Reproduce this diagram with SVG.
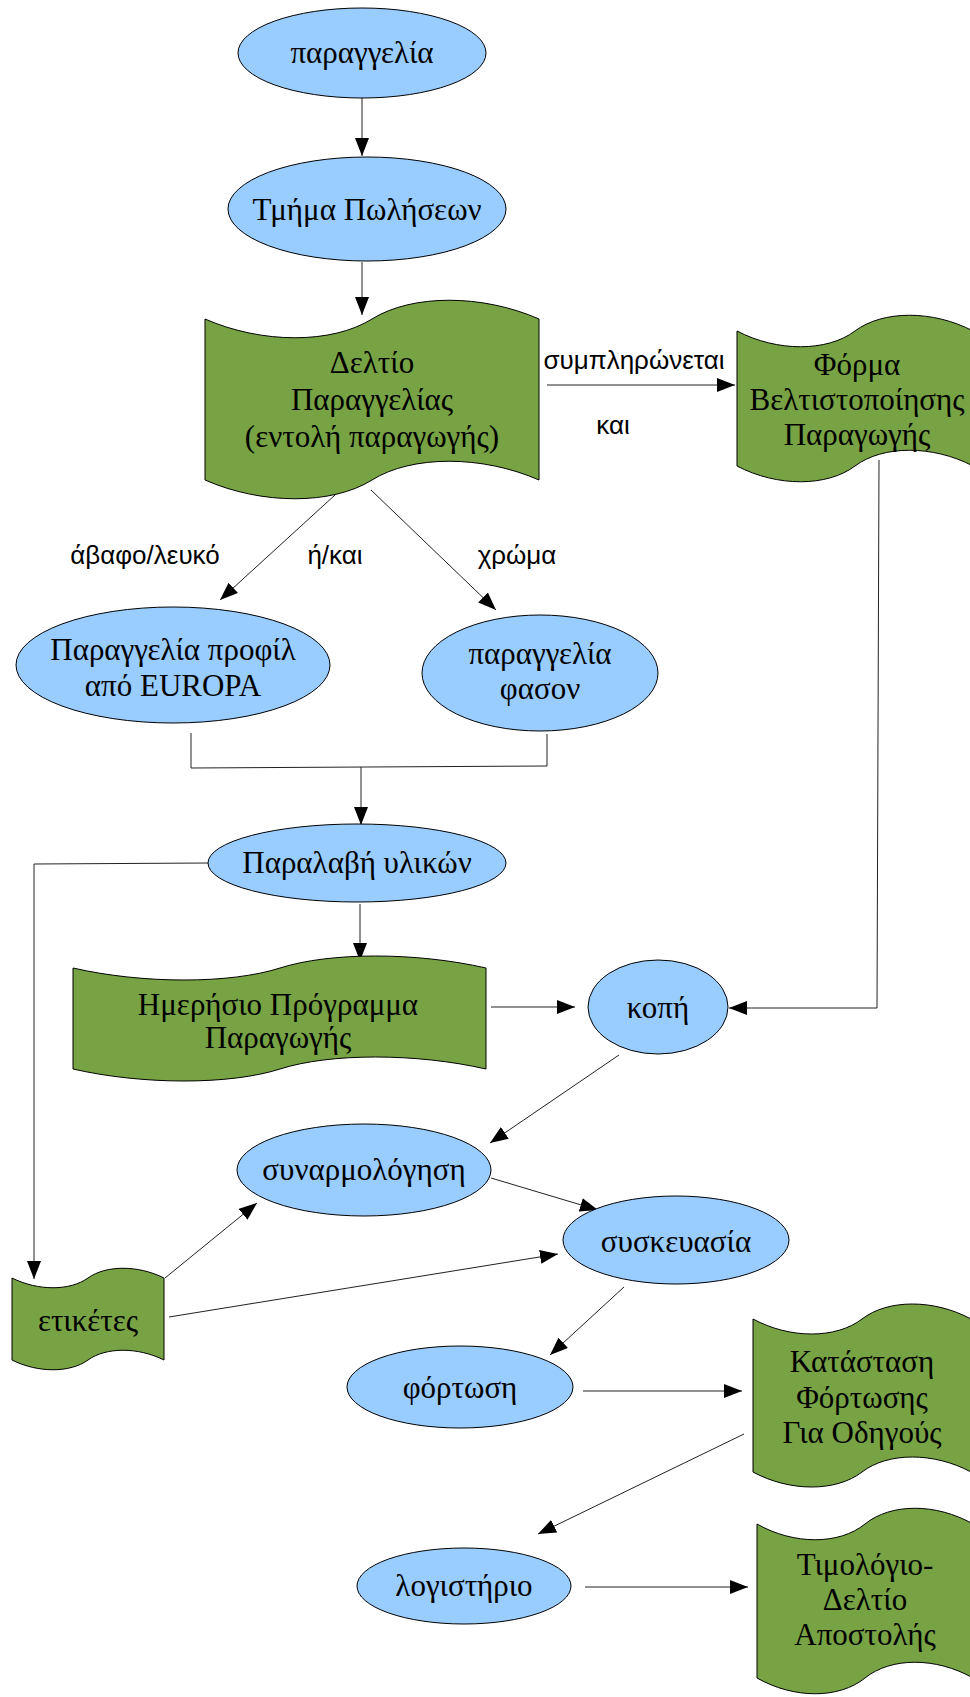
<svg xmlns="http://www.w3.org/2000/svg" width="970" height="1697" viewBox="0 0 970 1697">
  <style>
    .proc { fill: #99ccff; stroke: #000; stroke-width: 1; }
    .doc { fill: #77a344; stroke: #000; stroke-width: 1; }
    .t { font-family: "Liberation Serif", "Times New Roman", serif; font-size: 31px; fill: #000; text-anchor: middle; }
    .lbl { font-family: "Liberation Sans", Arial, sans-serif; font-size: 26px; fill: #000; text-anchor: middle; }
    .edge { fill: none; stroke: #222; stroke-width: 1; }
    .arr { marker-end: url(#head); }
  </style>
  <defs>
    <marker id="head" markerUnits="userSpaceOnUse" markerWidth="18" markerHeight="14" refX="18" refY="7" orient="auto">
      <path d="M0,0 L18,7 L0,14 Z" fill="#000"/>
    </marker>
  </defs>
  <rect width="970" height="1697" fill="#fff"/>

  <!-- connectors -->
  <g id="connectors">
    <line class="edge arr" x1="362" y1="98" x2="362" y2="156"/>
    <line class="edge arr" x1="362" y1="262" x2="362" y2="315"/>
    <line class="edge arr" x1="547" y1="385" x2="735" y2="385"/>
    <polyline class="edge arr" points="879,460 877,1008 729,1008"/>
    <line class="edge arr" x1="335" y1="495" x2="220" y2="600"/>
    <line class="edge arr" x1="371" y1="490" x2="496" y2="610"/>
    <polyline class="edge" points="191,733 191,768 547,766 547,734"/>
    <line class="edge arr" x1="361" y1="767" x2="361" y2="825"/>
    <polyline class="edge arr" points="208,863 34,864 34,1279"/>
    <line class="edge arr" x1="360" y1="904" x2="360" y2="961"/>
    <line class="edge arr" x1="491" y1="1007" x2="575" y2="1007"/>
    <line class="edge arr" x1="619" y1="1055" x2="490" y2="1143"/>
    <line class="edge arr" x1="491" y1="1178" x2="598" y2="1210"/>
    <line class="edge arr" x1="165" y1="1278" x2="257" y2="1203"/>
    <line class="edge arr" x1="169" y1="1317" x2="558" y2="1254"/>
    <line class="edge arr" x1="624" y1="1287" x2="550" y2="1355"/>
    <line class="edge arr" x1="583" y1="1391" x2="742" y2="1391"/>
    <line class="edge arr" x1="744" y1="1434" x2="538" y2="1534"/>
    <line class="edge arr" x1="585" y1="1587" x2="748" y2="1587"/>
  </g>

  <!-- connector labels -->
  <g id="labels">
    <text class="lbl" x="634" y="369">συμπληρώνεται</text>
    <text class="lbl" x="613" y="434">και</text>
    <text class="lbl" x="145" y="564">άβαφο/λευκό</text>
    <text class="lbl" x="335" y="564">ή/και</text>
    <text class="lbl" x="517" y="564">χρώμα</text>
  </g>

  <g id="order">
    <ellipse class="proc" cx="362" cy="53" rx="124" ry="45"/>
    <text class="t" x="362" y="63">παραγγελία</text>
  </g>
  <g id="sales">
    <ellipse class="proc" cx="367" cy="209" rx="139" ry="52"/>
    <text class="t" x="367" y="220">Τμήμα Πωλήσεων</text>
  </g>
  <g id="order-slip">
    <path class="doc" d="M205,319 C262,344 332,344 372,319 C412,294 482,294 539,319 L539,480 C482,455 412,455 372,480 C332,505 262,505 205,480 Z"/>
    <text class="t" x="372" y="373">Δελτίο</text>
    <text class="t" x="372" y="410">Παραγγελίας</text>
    <text class="t" x="372" y="447">(εντολή παραγωγής)</text>
  </g>
  <g id="optimisation-form">
    <path class="doc" d="M737,331 C777,352 827,352 855,331 C883,310 933,310 973,331 L973,466 C933,445 883,445 855,466 C827,487 777,487 737,466 Z"/>
    <text class="t" x="857" y="375">Φόρμα</text>
    <text class="t" x="857" y="410">Βελτιστοποίησης</text>
    <text class="t" x="857" y="445">Παραγωγής</text>
  </g>
  <g id="profile-order">
    <ellipse class="proc" cx="173" cy="665" rx="157" ry="58"/>
    <text class="t" x="173" y="660">Παραγγελία προφίλ</text>
    <text class="t" x="173" y="696">από EUROPA</text>
  </g>
  <g id="facon-order">
    <ellipse class="proc" cx="540" cy="673" rx="118" ry="58"/>
    <text class="t" x="540" y="664">παραγγελία</text>
    <text class="t" x="540" y="699">φασον</text>
  </g>
  <g id="receipt">
    <ellipse class="proc" cx="357" cy="863" rx="149" ry="39"/>
    <text class="t" x="357" y="873">Παραλαβή υλικών</text>
  </g>
  <g id="daily-plan">
    <path class="doc" d="M73,968 C143,984 230,984 280,968 C330,952 416,952 486,968 L486,1069 C416,1053 330,1053 280,1069 C230,1085 143,1085 73,1069 Z"/>
    <text class="t" x="278" y="1015">Ημερήσιο Πρόγραμμα</text>
    <text class="t" x="278" y="1048">Παραγωγής</text>
  </g>
  <g id="cutting">
    <ellipse class="proc" cx="658" cy="1007" rx="70" ry="47"/>
    <text class="t" x="658" y="1018">κοπή</text>
  </g>
  <g id="assembly">
    <ellipse class="proc" cx="364" cy="1170" rx="127" ry="46"/>
    <text class="t" x="364" y="1180">συναρμολόγηση</text>
  </g>
  <g id="packing">
    <ellipse class="proc" cx="676" cy="1240" rx="113" ry="44"/>
    <text class="t" x="676" y="1252">συσκευασία</text>
  </g>
  <g id="labels-doc">
    <path class="doc" d="M12,1278 C38,1291 70,1291 88,1278 C106,1265 138,1265 164,1278 L164,1360 C138,1347 106,1347 88,1360 C70,1373 38,1373 12,1360 Z"/>
    <text class="t" x="88" y="1331">ετικέτες</text>
  </g>
  <g id="loading">
    <ellipse class="proc" cx="460" cy="1387" rx="113" ry="41"/>
    <text class="t" x="460" y="1398">φόρτωση</text>
  </g>
  <g id="loading-sheet">
    <path class="doc" d="M753,1319 C790,1339 836,1339 862,1319 C888,1299 934,1299 971,1319 L971,1472 C934,1452 888,1452 862,1472 C836,1492 790,1492 753,1472 Z"/>
    <text class="t" x="862" y="1372">Κατάσταση</text>
    <text class="t" x="862" y="1408">Φόρτωσης</text>
    <text class="t" x="862" y="1443">Για Οδηγούς</text>
  </g>
  <g id="accounting">
    <ellipse class="proc" cx="464" cy="1586" rx="107" ry="38"/>
    <text class="t" x="464" y="1596">λογιστήριο</text>
  </g>
  <g id="invoice">
    <path class="doc" d="M757,1524 C794,1545 839,1545 865,1524 C891,1503 936,1503 973,1524 L973,1678 C936,1657 891,1657 865,1678 C839,1699 794,1699 757,1678 Z"/>
    <text class="t" x="865" y="1575">Τιμολόγιο-</text>
    <text class="t" x="865" y="1610">Δελτίο</text>
    <text class="t" x="865" y="1645">Αποστολής</text>
  </g>
</svg>
